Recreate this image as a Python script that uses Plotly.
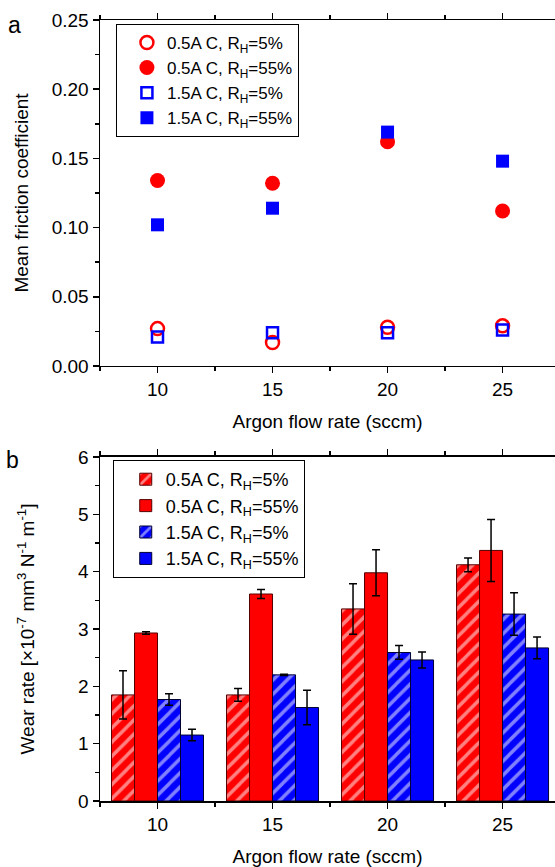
import plotly.graph_objects as go

# ---------------- data ----------------
flow = [10, 15, 20, 25]

# panel a: mean friction coefficient
mu_05_rh5 = [0.027, 0.017, 0.028, 0.029]
mu_05_rh55 = [0.134, 0.132, 0.162, 0.112]
mu_15_rh5 = [0.021, 0.024, 0.024, 0.026]
mu_15_rh55 = [0.102, 0.114, 0.169, 0.148]

# panel b: wear rate (x1e-7 mm3 N-1 m-1) and errors
wr_05_rh5 = [1.85, 1.85, 3.35, 4.12]
wr_05_rh5_err = [0.42, 0.11, 0.44, 0.12]
wr_05_rh55 = [2.93, 3.61, 3.98, 4.37]
wr_05_rh55_err = [0.02, 0.08, 0.40, 0.54]
wr_15_rh5 = [1.77, 2.20, 2.59, 3.26]
wr_15_rh5_err = [0.10, 0.01, 0.12, 0.37]
wr_15_rh55 = [1.15, 1.63, 2.46, 2.67]
wr_15_rh55_err = [0.10, 0.30, 0.14, 0.19]

names = ["0.5A C, R<sub>H</sub>=5%", "0.5A C, R<sub>H</sub>=55%",
         "1.5A C, R<sub>H</sub>=5%", "1.5A C, R<sub>H</sub>=55%"]

RED = "#FF0000"
BLUE = "#0000FF"
FONT = "Liberation Sans, Arial, sans-serif"
FS = 19

fig = go.Figure()

# ---------------- panel a ----------------
fig.add_trace(go.Scatter(x=flow, y=mu_05_rh5, mode="markers", name=names[0],
                         marker=dict(symbol="circle-open", size=13, color=RED,
                                     line=dict(width=2.5, color=RED)),
                         xaxis="x", yaxis="y", legend="legend"))
fig.add_trace(go.Scatter(x=flow, y=mu_05_rh55, mode="markers", name=names[1],
                         marker=dict(symbol="circle", size=15, color=RED),
                         xaxis="x", yaxis="y", legend="legend"))
fig.add_trace(go.Scatter(x=flow, y=mu_15_rh5, mode="markers", name=names[2],
                         marker=dict(symbol="square-open", size=11, color=BLUE,
                                     line=dict(width=2.5, color=BLUE)),
                         xaxis="x", yaxis="y", legend="legend"))
fig.add_trace(go.Scatter(x=flow, y=mu_15_rh55, mode="markers", name=names[3],
                         marker=dict(symbol="square", size=13, color=BLUE),
                         xaxis="x", yaxis="y", legend="legend"))

# ---------------- panel b ----------------
def err(a):
    return dict(type="data", array=a, color="black", thickness=1.5, width=4)

hatch_red = dict(shape="/", fgcolor="white", bgcolor=RED, size=10, solidity=0.35)
hatch_blue = dict(shape="/", fgcolor="white", bgcolor=BLUE, size=10, solidity=0.35)

fig.add_trace(go.Bar(x=flow, y=wr_05_rh5, name=names[0], error_y=err(wr_05_rh5_err),
                     marker=dict(color=RED, pattern=hatch_red,
                                 line=dict(color="#550000", width=1)),
                     xaxis="x2", yaxis="y2", legend="legend2"))
fig.add_trace(go.Bar(x=flow, y=wr_05_rh55, name=names[1], error_y=err(wr_05_rh55_err),
                     marker=dict(color=RED, line=dict(color="#550000", width=1)),
                     xaxis="x2", yaxis="y2", legend="legend2"))
fig.add_trace(go.Bar(x=flow, y=wr_15_rh5, name=names[2], error_y=err(wr_15_rh5_err),
                     marker=dict(color=BLUE, pattern=hatch_blue,
                                 line=dict(color="#000033", width=1)),
                     xaxis="x2", yaxis="y2", legend="legend2"))
fig.add_trace(go.Bar(x=flow, y=wr_15_rh55, name=names[3], error_y=err(wr_15_rh55_err),
                     marker=dict(color=BLUE, line=dict(color="#000033", width=1)),
                     xaxis="x2", yaxis="y2", legend="legend2"))

# ---------------- axes ----------------
XR = [7.5, 27.28]
common_x = dict(range=XR, tickmode="linear", tick0=0, dtick=5, ticks="outside",
                ticklen=6, tickwidth=1.5, tickcolor="black", showline=True,
                linecolor="black", linewidth=1.5, mirror="ticks", showgrid=False,
                zeroline=False, automargin=False,
                minor=dict(ticks="outside", ticklen=4, tickwidth=1.5, tickcolor="black",
                           tick0=0, dtick=2.5, showgrid=False),
                tickfont=dict(size=FS, color="black"),
                title=dict(text="Argon flow rate (sccm)", font=dict(size=FS, color="black"),
                           standoff=15))
common_y = dict(ticks="outside", ticklen=6, tickwidth=1.5, tickcolor="black",
                showline=True, linecolor="black", linewidth=1.5, mirror=False,
                showgrid=False, zeroline=False, automargin=False,
                tickfont=dict(size=FS, color="black"))

TOP_DOM = [0.557, 1.0]
BOT_DOM = [0.0, 0.4405]

fig.update_layout(
    width=555, height=867,
    margin=dict(l=100, r=0, t=20, b=66, autoexpand=False),
    paper_bgcolor="white", plot_bgcolor="white",
    font=dict(family=FONT, color="black"),
    hovermode=False,
    barmode="group", bargap=0.2, bargroupgap=0.0,
    xaxis=dict(common_x, anchor="y", domain=[0, 1]),
    yaxis=dict(common_y, domain=TOP_DOM, range=[0, 0.25], tickmode="linear",
               tick0=0, dtick=0.05, tickformat=".2f",
               minor=dict(ticks="outside", ticklen=4, tickwidth=1.5, tickcolor="black",
                          tick0=0, dtick=0.025, showgrid=False),
               title=dict(text="Mean friction coefficient", font=dict(size=FS, color="black"),
                          standoff=18)),
    xaxis2=dict(common_x, anchor="y2", domain=[0, 1]),
    yaxis2=dict(common_y, domain=BOT_DOM, range=[0, 6], tickmode="linear",
                tick0=0, dtick=1,
                minor=dict(ticks="outside", ticklen=4, tickwidth=1.5, tickcolor="black",
                           tick0=0, dtick=0.5, showgrid=False),
                title=dict(text="Wear rate [×10<sup>-7</sup> mm<sup>3</sup> N<sup>-1</sup> m<sup>-1</sup>]",
                           font=dict(size=FS, color="black"), standoff=38)),
    legend=dict(x=0.035, y=0.995, xanchor="left", yanchor="top",
                bordercolor="black", borderwidth=1, bgcolor="white",
                font=dict(size=17, color="black"), tracegroupgap=0,
                indentation=10, itemsizing="trace"),
    legend2=dict(x=0.028, y=0.4366, xanchor="left", yanchor="top",
                 bordercolor="black", borderwidth=1, bgcolor="white",
                 font=dict(size=18, color="black"), tracegroupgap=0,
                 indentation=12),
    annotations=[
        dict(text="a", x=0.0, y=1.0, xref="paper", yref="paper",
             xshift=-86, yshift=-5, showarrow=False, font=dict(size=23, color="black"),
             xanchor="center", yanchor="middle"),
        dict(text="b", x=0.0, y=0.4405, xref="paper", yref="paper",
             xshift=-88, yshift=-3, showarrow=False, font=dict(size=23, color="black"),
             xanchor="center", yanchor="middle"),
    ],
)

post = (
    "document.documentElement.style.margin='0';"
    "document.documentElement.style.overflow='hidden';"
    "document.body.style.margin='0';"
    "document.body.style.overflow='hidden';"
    "document.querySelectorAll('svg.main-svg').forEach(function(s){s.style.overflow='hidden';});"
)

fig.write_html("out.html", config={"displayModeBar": False, "staticPlot": True},
               post_script=post)
